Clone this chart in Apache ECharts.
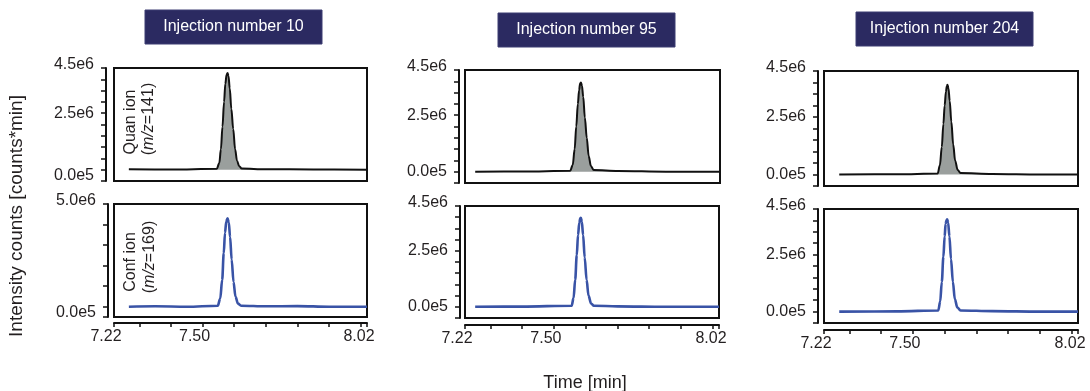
<!DOCTYPE html>
<html>
<head>
<meta charset="utf-8">
<script src="https://cdn.jsdelivr.net/npm/echarts@6/dist/echarts.min.js"></script>
<style>
  html, body { margin: 0; padding: 0; background: #fff; }
  #chart { width: 1090px; height: 391px; }
</style>
</head>
<body>
<div id="chart"></div>
<script>
// retention time [min] / intensity [1e6 counts*min]
const quan10T = [7.267, 7.40, 7.545, 7.553, 7.558, 7.563, 7.568, 7.572, 7.576, 7.579, 7.582, 7.586, 7.591, 7.597, 7.603, 7.609, 7.616, 7.624, 7.70, 7.85, 8.02];
const quan10V = [0.02, 0.01, 0.04, 0.3, 0.9, 1.9, 3.0, 3.8, 4.2, 4.28, 4.15, 3.6, 2.7, 1.8, 0.9, 0.4, 0.15, 0.05, 0.02, 0.01, 0.0];
const conf10T = [7.267, 7.35, 7.45, 7.548, 7.556, 7.562, 7.567, 7.571, 7.575, 7.579, 7.583, 7.587, 7.592, 7.598, 7.604, 7.612, 7.622, 7.70, 7.80, 7.90, 8.02];
const conf10V = [0.0, 0.02, 0.0, 0.05, 0.4, 1.3, 2.6, 3.6, 4.15, 4.3, 4.1, 3.4, 2.3, 1.2, 0.5, 0.15, 0.05, 0.02, 0.03, 0.0, 0.0];

const quan95T = [7.252, 7.40, 7.55, 7.558, 7.564, 7.569, 7.574, 7.578, 7.581, 7.584, 7.587, 7.591, 7.596, 7.602, 7.608, 7.615, 7.624, 7.70, 7.85, 8.02];
const quan95V = [0.0, 0.01, 0.04, 0.3, 1.0, 2.0, 3.0, 3.6, 3.9, 3.95, 3.8, 3.3, 2.4, 1.5, 0.7, 0.25, 0.07, 0.03, 0.0, 0.0];
const conf95T = [7.252, 7.40, 7.556, 7.562, 7.567, 7.572, 7.576, 7.580, 7.583, 7.585, 7.588, 7.592, 7.597, 7.603, 7.609, 7.617, 7.626, 7.70, 7.85, 8.02];
const conf95V = [0.0, 0.01, 0.05, 0.4, 1.2, 2.3, 3.2, 3.75, 3.95, 3.97, 3.8, 3.2, 2.2, 1.2, 0.5, 0.15, 0.05, 0.02, 0.0, 0.0];

const quan204T = [7.268, 7.45, 7.578, 7.585, 7.591, 7.596, 7.600, 7.604, 7.607, 7.609, 7.612, 7.616, 7.621, 7.627, 7.633, 7.641, 7.650, 7.75, 7.90, 8.02];
const quan204V = [0.0, 0.01, 0.04, 0.4, 1.2, 2.2, 3.0, 3.6, 3.85, 3.9, 3.75, 3.2, 2.3, 1.3, 0.6, 0.2, 0.06, 0.02, 0.0, 0.0];
const conf204T = [7.268, 7.45, 7.580, 7.586, 7.591, 7.596, 7.600, 7.603, 7.606, 7.608, 7.611, 7.615, 7.620, 7.626, 7.632, 7.640, 7.650, 7.75, 7.90, 8.02];
const conf204V = [0.0, 0.01, 0.05, 0.45, 1.3, 2.4, 3.3, 3.85, 4.02, 4.05, 3.9, 3.3, 2.3, 1.3, 0.55, 0.18, 0.05, 0.02, 0.0, 0.0];

const injections = ['Injection number 10', 'Injection number 95', 'Injection number 204'];

const xTicks = [7.22, 7.3, 7.4, 7.5, 7.6, 7.7, 7.8, 7.9, 8.0, 8.02];
const xLabelVals = [7.22, 7.5, 8.02];
const xLabels = ['7.22', '7.50', '8.02'];

const yTicks45 = [-0.5, 0, 0.5, 1, 1.5, 2, 2.5, 3, 3.5, 4, 4.5];
const yTicks50 = [-0.5, 0, 1, 2, 3, 4, 5];
const yLabelVals45 = [0, 2.5, 4.5];
const yLabels45 = ['0.0e5', '2.5e6', '4.5e6'];
const yLabelVals50 = [0, 5];
const yLabels50 = ['0.0e5', '5.0e6'];

const FONT = '"Liberation Sans", Arial, Helvetica, sans-serif';
const TEXT = '#231f20';
const NAVY = '#2b2a61';
const BLUE = '#3953a6';
const GREY = '#9a9f9d';

const zip = (t, v) => t.map((x, i) => [x, v[i]]);

const panels = [
  { grid: { left: 114, top: 68, width: 253, height: 113 }, yOff: 8, t: quan10T, v: quan10V, quan: true, max: 4.5, ticks: yTicks45, lv: yLabelVals45, lt: yLabels45, lowZero: true },
  { grid: { left: 114, top: 204, width: 253, height: 113 }, yOff: 6, t: conf10T, v: conf10V, quan: false, max: 5, ticks: yTicks50, lv: yLabelVals50, lt: yLabels50, lowZero: true, xOff: 6 },
  { grid: { left: 465, top: 70, width: 255, height: 113 }, yOff: 6, t: quan95T, v: quan95V, quan: true, max: 4.5, ticks: yTicks45, lv: yLabelVals45, lt: yLabels45 },
  { grid: { left: 465, top: 206, width: 254, height: 112 }, yOff: 5, t: conf95T, v: conf95V, quan: false, max: 4.5, ticks: yTicks45, lv: yLabelVals45, lt: yLabels45, xOff: 7 },
  { grid: { left: 824, top: 71, width: 254, height: 115 }, yOff: 6, t: quan204T, v: quan204V, quan: true, max: 4.5, ticks: yTicks45, lv: yLabelVals45, lt: yLabels45 },
  { grid: { left: 824, top: 209, width: 254, height: 114 }, yOff: 6, t: conf204T, v: conf204V, quan: false, max: 4.5, ticks: yTicks45, lv: yLabelVals45, lt: yLabels45, xOff: 7 },
];

const lookup = (vals, texts, v) => {
  const k = vals.findIndex((a) => Math.abs(a - v) < 1e-6);
  return k < 0 ? '' : texts[k];
};

const labelFont = { fontFamily: FONT, fontSize: 16, color: TEXT };

const option = {
  animation: false,
  backgroundColor: '#fff',
  grid: panels.map((p) => ({
    ...p.grid,
    show: true,
    borderColor: '#111',
    borderWidth: 2,
    backgroundColor: 'transparent',
    containLabel: false,
  })),
  xAxis: panels.map((p, i) => ({
    gridIndex: i,
    type: 'value',
    min: 7.22,
    max: 8.02,
    show: !p.quan,
    offset: p.xOff || 0,
    axisLine: { show: true, onZero: false, lineStyle: { color: '#111', width: 2 } },
    axisTick: { show: true, length: 4, customValues: xTicks, lineStyle: { color: '#111', width: 1.5 } },
    axisLabel: {
      ...labelFont,
      margin: 6,
      customValues: xLabelVals,
      formatter: (v) => '{s|' + lookup(xLabelVals, xLabels, v) + '}',
      rich: { s: { ...labelFont, padding: [0, 16, 0, 0] } },
    },
    splitLine: { show: false },
  })),
  yAxis: panels.map((p, i) => ({
    gridIndex: i,
    type: 'value',
    min: -0.5,
    max: p.max,
    offset: p.yOff,
    axisLine: { show: true, onZero: false, lineStyle: { color: '#111', width: 2 } },
    axisTick: { show: true, length: 5, customValues: p.ticks, lineStyle: { color: '#111', width: 1.5 } },
    axisLabel: {
      ...labelFont,
      margin: 12,
      customValues: p.lv,
      formatter: (v) => {
        const txt = lookup(p.lv, p.lt, v);
        if (Math.abs(v - p.max) < 1e-6) return '{hi|' + txt + '}';
        if (v === 0 && p.lowZero) return '{lo|' + txt + '}';
        return '{n|' + txt + '}';
      },
      rich: {
        hi: { ...labelFont, padding: [0, 0, 7, 0] },
        lo: { ...labelFont, padding: [12, 0, 0, 0] },
        n: { ...labelFont },
      },
    },
    splitLine: { show: false },
  })),
  series: panels.map((p, i) => ({
    type: 'line',
    xAxisIndex: i,
    yAxisIndex: i,
    data: zip(p.t, p.v),
    showSymbol: false,
    symbol: 'none',
    smooth: 0.35,
    smoothMonotone: 'x',
    lineStyle: { color: p.quan ? '#111' : BLUE, width: p.quan ? 2 : 2.6 },
    areaStyle: p.quan ? { color: GREY, opacity: 1, origin: 0 } : undefined,
    z: 3,
  })),
  graphic: [
    ...[[145, 10], [498, 13], [856, 12]].map(([x, y], i) => ({
      type: 'group',
      x, y,
      children: [
        { type: 'rect', shape: { x: 0, y: 0, width: 177, height: 34 }, style: { fill: NAVY, stroke: '#3d3c72', lineWidth: 1 } },
        {
          type: 'text', x: 88.5, y: 17,
          style: { text: injections[i], fill: '#fff', fontFamily: FONT, fontSize: 16, align: 'center', verticalAlign: 'middle', textAlign: 'center', textVerticalAlign: 'middle' },
        },
      ],
    })),
    {
      type: 'text', x: 17, y: 216, rotation: Math.PI / 2,
      style: { text: 'Intensity counts [counts*min]', fill: TEXT, fontFamily: FONT, fontSize: 19, align: 'center', verticalAlign: 'middle', textAlign: 'center', textVerticalAlign: 'middle' },
    },
    {
      type: 'text', x: 585, y: 383,
      style: { text: 'Time [min]', fill: TEXT, fontFamily: FONT, fontSize: 18, align: 'center', verticalAlign: 'middle', textAlign: 'center', textVerticalAlign: 'middle' },
    },
    ...[
      [131, 122, 'Quan ion'], [149, 119, '({i|m/z}=141)'],
      [131, 262, 'Conf ion'], [150, 257, '({i|m/z}=169)'],
    ].map(([x, y, s]) => ({
      type: 'text', x, y, rotation: Math.PI / 2, z: 10,
      style: {
        text: s, fill: TEXT, fontFamily: FONT, fontSize: 16,
        align: 'center', verticalAlign: 'middle', textAlign: 'center', textVerticalAlign: 'middle',
        rich: { i: { fontStyle: 'italic', fontFamily: FONT, fontSize: 16, fill: TEXT } },
      },
    })),
  ],
};

const chart = echarts.init(document.getElementById('chart'), null, { renderer: 'canvas' });
chart.setOption(option);
</script>
</body>
</html>
